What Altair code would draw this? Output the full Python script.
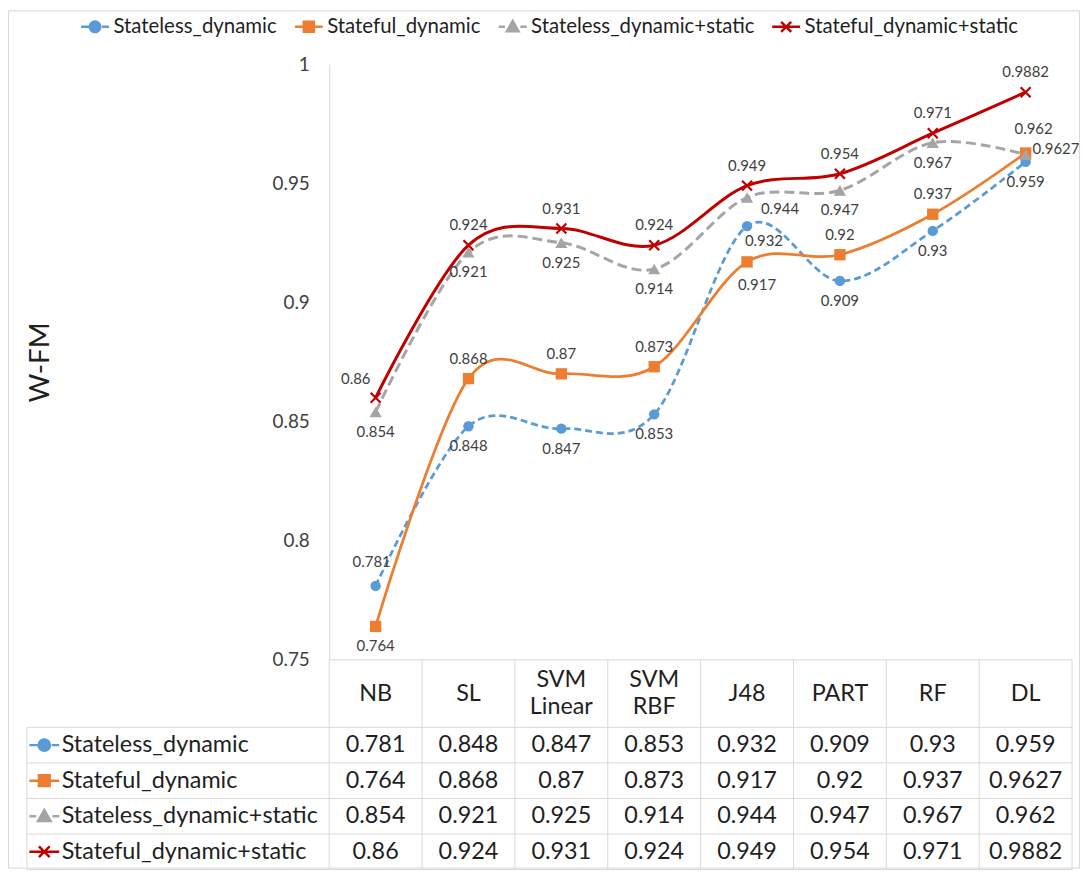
import altair as alt
import pandas as pd

# ---------------- data ----------------
categories = ["NB", "SL", "SVM Linear", "SVM RBF", "J48", "PART", "RF", "DL"]
series_names = ["Stateless_dynamic", "Stateful_dynamic",
                "Stateless_dynamic+static", "Stateful_dynamic+static"]
stateless_dynamic = [0.781, 0.848, 0.847, 0.853, 0.932, 0.909, 0.93, 0.959]
stateful_dynamic = [0.764, 0.868, 0.87, 0.873, 0.917, 0.92, 0.937, 0.9627]
stateless_dynamic_static = [0.854, 0.921, 0.925, 0.914, 0.944, 0.947, 0.967, 0.962]
stateful_dynamic_static = [0.86, 0.924, 0.931, 0.924, 0.949, 0.954, 0.971, 0.9882]
y_ticks = [0.75, 0.8, 0.85, 0.9, 0.95, 1.0]
all_values = [stateless_dynamic, stateful_dynamic,
              stateless_dynamic_static, stateful_dynamic_static]

# ---------------- styles / layout ----------------
label_places = [
    ["a1", "b", "b", "b", "br", "b", "b", "b"],
    ["b", "a", "a", "a", "br2", "a", "a", "r"],
    ["b", "b", "b", "b", "r2", "b", "b", "ar"],
    ["al", "a", "a", "a", "a", "a", "a", "a"],
]
place_style = {
    "a": (0, -20, "center"),
    "a1": (-4, -24, "center"),
    "al": (-20, -19, "center"),
    "b": (0, 20, "center"),
    "br": (17, 15, "center"),
    "br2": (10, 23, "center"),
    "r": (7, -4, "left"),
    "r2": (14, 12, "left"),
    "ar": (8, -26, "center"),
}
colors = ["#5B9BD5", "#ED7D31", "#A5A5A5", "#C00000"]
dashes = [[7, 4], None, [10, 5], None]
widths = [2.75, 2.75, 3, 3]
marker_shapes = ["circle", "square", "triangle-up", "M-1,-1L1,1M-1,1L1,-1"]
marker_sizes = [110, 130, 150, 100]
marker_filled = [True, True, True, False]
legend_paths = [
    "M-1,0H-0.4M0.5,0H1M-0.38,0A0.38,0.38 0 1,0 0.38,0A0.38,0.38 0 1,0 -0.38,0Z",
    "M-1,0H1M-0.36,-0.36H0.36V0.36H-0.36Z",
    "M-1,0H-0.55M0.55,0H1M-0.42,0.32L0,-0.42L0.42,0.32Z",
    "M-1,0H1M-0.36,-0.36L0.36,0.36M-0.36,0.36L0.36,-0.36",
]
FONT = "Lato"
TEXT = "#1f1f1f"
LABEL = "#404040"
GRID = "#D9D9D9"

W, H = 1051, 810
X_LEFT = -3.2555          # label column left edge (in column units)
LABEL_X = -2.881          # row label text start
SYM_X = -3.068            # row symbol centre
HEADER_H = 1.9            # header row height (in row units)
TABLE_H = HEADER_H + 4

xscale = alt.Scale(domain=[X_LEFT, 8], nice=False, zero=False)
yscale = alt.Scale(domain=[0.75, 1.0], range=[599, 0], nice=False, zero=False)
tscale = alt.Scale(domain=[0, TABLE_H], range=[599, 810], nice=False, zero=False)
color_scale = alt.Scale(domain=series_names, range=colors)
shape_scale = alt.Scale(domain=series_names, range=legend_paths)

yaxis = alt.Axis(values=y_ticks, format="~g", offset=-304, ticks=False, grid=False,
                 domainColor=GRID, domainWidth=1, labelPadding=20,
                 labelFont=FONT, labelFontSize=19, labelColor=LABEL,
                 title="W-FM", titleFont=FONT, titleFontSize=28,
                 titleFontWeight="normal", titleColor=TEXT, titleX=-276)

# ---------------- long table ----------------
rows = []
for k, s in enumerate(series_names):
    for i, c in enumerate(categories):
        rows.append({"series": s, "cat": c, "pos": i + 0.5,
                     "value": all_values[k][i], "place": label_places[k][i],
                     "row": HEADER_H + k + 0.5})
df = pd.DataFrame(rows)

X = lambda f: alt.X(f, scale=xscale, axis=None)

# ---------------- line chart group ----------------
line_layers = []
for k, s in enumerate(series_names):
    d = df[df.series == s]
    lkw = dict(interpolate="cardinal", color=colors[k], strokeWidth=widths[k])
    if dashes[k]:
        lkw["strokeDash"] = dashes[k]
    line_layers.append(
        alt.Chart(d).mark_line(**lkw).encode(
            x=X("pos:Q"), y=alt.Y("value:Q", scale=yscale, axis=yaxis)))
    pkw = dict(shape=marker_shapes[k], size=marker_sizes[k], filled=marker_filled[k],
               color=colors[k], opacity=1)
    if not marker_filled[k]:
        pkw["strokeWidth"] = 2.2
    line_layers.append(
        alt.Chart(d).mark_point(**pkw).encode(
            x=X("pos:Q"), y=alt.Y("value:Q", scale=yscale, axis=yaxis)))

for code, (dx, dy, align) in place_style.items():
    line_layers.append(
        alt.Chart(df).transform_filter(alt.datum.place == code).mark_text(
            dx=dx, dy=dy, align=align, baseline="middle", font=FONT,
            fontSize=15, color=LABEL).encode(
            x=X("pos:Q"), y=alt.Y("value:Q", scale=yscale, axis=yaxis),
            text=alt.Text("value:Q", format="~g")))

line_group = alt.layer(*line_layers)

# ---------------- data table group ----------------
hlines = pd.DataFrame(
    [{"x1": 0, "x2": 8, "r": 0}] +
    [{"x1": X_LEFT, "x2": 8, "r": HEADER_H + j} for j in range(5)])
vlines = pd.DataFrame(
    [{"x": j, "r1": 0, "r2": TABLE_H} for j in range(9)] +
    [{"x": X_LEFT, "r1": HEADER_H, "r2": TABLE_H}])
header = pd.DataFrame({"cat": categories,
                       "pos": [i + 0.5 for i in range(len(categories))],
                       "row": [HEADER_H / 2] * len(categories)})
row_labels = pd.DataFrame({"series": series_names,
                           "x": [LABEL_X] * 4, "sx": [SYM_X] * 4,
                           "row": [HEADER_H + k + 0.5 for k in range(4)]})

TY = lambda f: alt.Y(f, scale=tscale, axis=None)

legend = alt.Legend(
    orient="none", legendX=53, legendY=-53, direction="horizontal", title=None,
    labelFont=FONT, labelFontSize=20.5, labelColor=TEXT, symbolSize=784,
    symbolStrokeWidth=2.5, labelOffset=3, columnPadding=12, labelLimit=400,
    padding=0, symbolOpacity=1)

multi = "indexof(datum.cat, ' ') >= 0"
table_layers = [
    alt.Chart(hlines).mark_rule(color=GRID, strokeWidth=1).encode(
        x=X("x1:Q"), x2="x2:Q", y=TY("r:Q")),
    alt.Chart(vlines).mark_rule(color=GRID, strokeWidth=1).encode(
        x=X("x:Q"), y=TY("r1:Q"), y2="r2:Q"),
    alt.Chart(header).transform_filter("!(" + multi + ")").mark_text(
        font=FONT, fontSize=23.5, color=TEXT, baseline="middle").encode(
        x=X("pos:Q"), y=TY("row:Q"), text="cat:N"),
    alt.Chart(header).transform_filter(multi).mark_text(
        font=FONT, fontSize=23.5, color=TEXT, lineBreak=" ", lineHeight=28,
        dy=-14, baseline="middle").encode(
        x=X("pos:Q"), y=TY("row:Q"), text="cat:N"),
    alt.Chart(df).mark_text(font=FONT, fontSize=23.5, color=TEXT,
                            baseline="middle").encode(
        x=X("pos:Q"), y=TY("row:Q"), text=alt.Text("value:Q", format="~g")),
    alt.Chart(row_labels).mark_text(font=FONT, fontSize=23.5, color=TEXT, align="left",
                                    baseline="middle").encode(
        x=X("x:Q"), y=TY("row:Q"), text="series:N"),
    alt.Chart(row_labels).mark_point(size=900, filled=True, strokeWidth=2.5,
                                     opacity=1).encode(
        x=X("sx:Q"), y=TY("row:Q"),
        shape=alt.Shape("series:N", scale=shape_scale, legend=legend),
        fill=alt.Fill("series:N", scale=color_scale, legend=legend),
        stroke=alt.Stroke("series:N", scale=color_scale, legend=legend)),
]
table_group = alt.layer(*table_layers)

# light outer frame of the chart area (decoration only)
frame = alt.Chart(pd.DataFrame({"f": [0]})).mark_rect(
    fill=None, stroke=GRID, strokeWidth=1).encode(
    x=alt.value(-18.5), x2=alt.value(1058.5), y=alt.value(-53.5), y2=alt.value(808.5))

chart = alt.layer(line_group, table_group, frame).resolve_scale(y="independent").properties(
    width=W, height=H,
    autosize=alt.AutoSizeParams(type="none"),
    padding={"left": 19, "top": 54, "right": 10, "bottom": 2},
    background="white",
).configure(font=FONT).configure_view(strokeWidth=0)

chart.save("out.html", embed_options={"renderer": "svg", "actions": False})
